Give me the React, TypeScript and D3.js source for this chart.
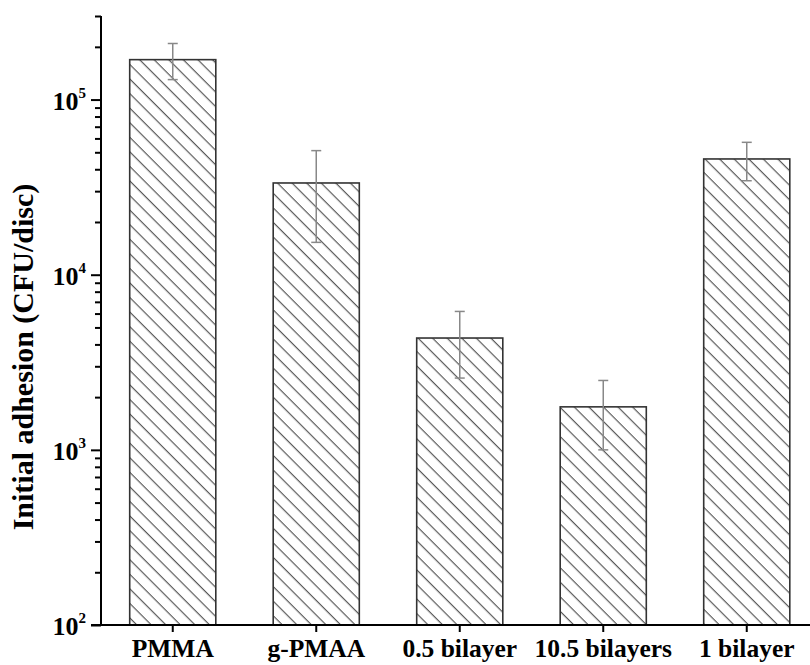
import * as d3 from "d3";
import {useEffect, useRef} from "react";

// values (CFU/disc)
const categories = ["PMMA", "g-PMAA", "0.5 bilayer", "10.5 bilayers", "1 bilayer"];
const means = [169000, 33400, 4350, 1760, 45800];
const errHigh = [209000, 51100, 6170, 2490, 57000];
const errLow = [130000, 15300, 2570, 1000, 34400];
const majorTicks = [100, 1000, 10000, 100000];
const exponents = ["2", "3", "4", "5"];

function App() {
  const ref = useRef<SVGSVGElement>(null);

  useEffect(() => {
    const width = 810;
    const height = 665;
    const left = 101;
    const top = 16;
    const bottom = 625;
    const font = "Liberation Serif, Times New Roman, Times, serif";

    const svg = d3.select(ref.current);
    svg.selectAll("*").remove();
    svg.attr("width", width).attr("height", height);

    // hatch pattern
    const defs = svg.append("defs");
    defs.append("pattern")
      .attr("id", "hatch")
      .attr("patternUnits", "userSpaceOnUse")
      .attr("width", 10.3)
      .attr("height", 10.3)
      .attr("patternTransform", "rotate(-45)")
      .append("line")
        .attr("x1", 5).attr("y1", -2)
        .attr("x2", 5).attr("y2", 12.3)
        .attr("stroke", "#4a4a4a")
        .attr("stroke-width", 1.1);

    const x = d3.scaleBand<string>()
      .domain(categories)
      .range([left, 818.5])
      .paddingInner(0.4)
      .paddingOuter(0.2);

    const y = d3.scaleLog()
      .domain([100, 300000])
      .range([bottom, top]);

    const data = categories.map((c, i) => ({
      name: c, mean: means[i], hi: errHigh[i], lo: errLow[i]
    }));

    // bars
    svg.append("g")
      .selectAll("rect")
      .data(data)
      .enter()
      .append("rect")
        .attr("x", d => x(d.name)!)
        .attr("y", d => y(d.mean))
        .attr("width", x.bandwidth())
        .attr("height", d => bottom - y(d.mean))
        .attr("fill", "url(#hatch)")
        .attr("stroke", "#333")
        .attr("stroke-width", 1.6);

    // error bars
    const err = svg.append("g")
      .attr("stroke", "#888")
      .attr("stroke-width", 1.5);
    data.forEach(d => {
      const cx = x(d.name)! + x.bandwidth() / 2;
      err.append("line")
        .attr("x1", cx).attr("x2", cx)
        .attr("y1", y(d.hi)).attr("y2", y(d.lo));
      [d.hi, d.lo].forEach(v => {
        err.append("line")
          .attr("x1", cx - 5).attr("x2", cx + 5)
          .attr("y1", y(v)).attr("y2", y(v));
      });
    });

    // minor y ticks
    const minor: number[] = [];
    [100, 1000, 10000].forEach(b => {
      for (let k = 2; k <= 9; k++) minor.push(b * k);
    });
    minor.push(200000, 300000);

    svg.append("g")
      .attr("transform", `translate(${left},0)`)
      .call(d3.axisLeft(y).tickValues(minor).tickSize(6).tickFormat(() => ""))
      .call(g => g.select(".domain").remove())
      .call(g => g.selectAll("line").attr("stroke", "#000").attr("stroke-width", 2));

    svg.append("g")
      .attr("transform", `translate(${left},0)`)
      .call(d3.axisLeft(y).tickValues(majorTicks).tickSize(10).tickFormat(() => ""))
      .call(g => g.select(".domain").remove())
      .call(g => g.selectAll("line").attr("stroke", "#000").attr("stroke-width", 2));

    // y axis line
    svg.append("line")
      .attr("x1", left).attr("x2", left)
      .attr("y1", top).attr("y2", bottom)
      .attr("stroke", "#000").attr("stroke-width", 2);

    // y tick labels
    majorTicks.forEach((v, i) => {
      const t = svg.append("text")
        .attr("x", 86)
        .attr("y", y(v) + 10)
        .attr("text-anchor", "end")
        .style("font-family", font)
        .attr("font-weight", "bold")
        .attr("font-size", 26);
      t.append("tspan").text("10");
      t.append("tspan")
        .attr("font-size", 15)
        .attr("dy", -12)
        .text(exponents[i]);
    });

    // x axis
    svg.append("g")
      .attr("transform", `translate(0,${bottom})`)
      .call(d3.axisBottom(x).tickSize(7).tickFormat(() => ""))
      .call(g => g.select(".domain").remove())
      .call(g => g.selectAll("line").attr("stroke", "#000").attr("stroke-width", 2));

    svg.append("line")
      .attr("x1", 91).attr("x2", width)
      .attr("y1", bottom).attr("y2", bottom)
      .attr("stroke", "#000").attr("stroke-width", 2);

    svg.append("g")
      .selectAll("text")
      .data(categories)
      .enter()
      .append("text")
        .attr("x", d => x(d)! + x.bandwidth() / 2)
        .attr("y", 657)
        .attr("text-anchor", "middle")
        .style("font-family", font)
        .attr("font-weight", "bold")
        .attr("font-size", 25.5)
        .text(d => d);

    // y axis title
    svg.append("text")
      .attr("transform", "translate(33,357) rotate(-90)")
      .attr("text-anchor", "middle")
      .style("font-family", font)
      .attr("font-weight", "bold")
      .attr("font-size", 30)
      .text("Initial adhesion (CFU/disc)");
  });

  return (
    <svg ref={ref} style={{position: "absolute", left: 0, top: 0, background: "#fff"}}></svg>
  );
}

export default App;
